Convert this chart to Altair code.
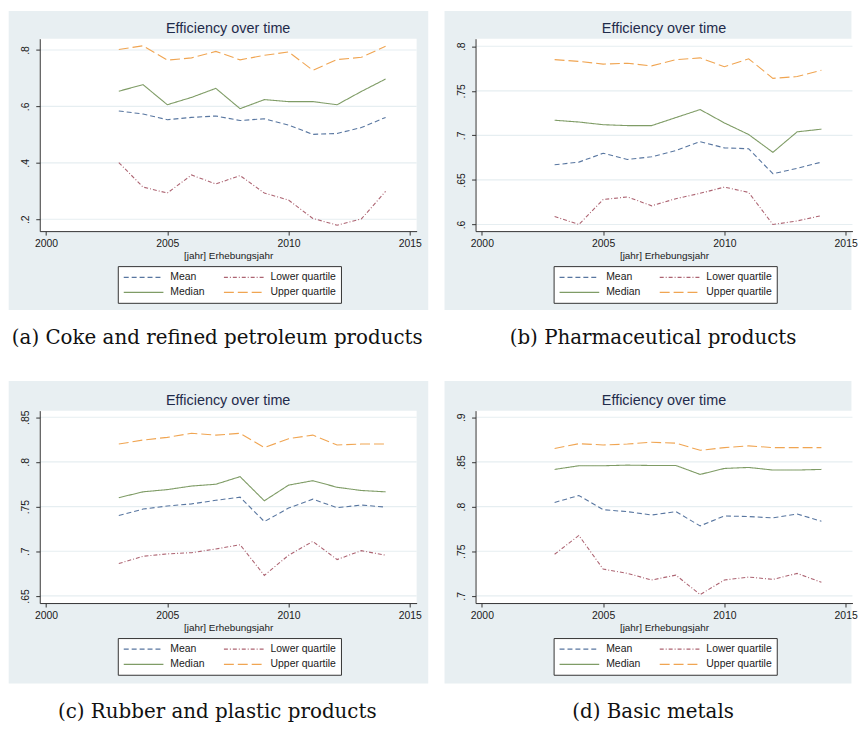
import altair as alt
import pandas as pd

years = list(range(2003, 2015))
series_names = ["Mean", "Median", "Lower quartile", "Upper quartile"]
series_colors = ["#5876a0", "#7f9c66", "#ad6472", "#f0a552"]
series_dashes = [[5, 3], [1, 0], [4, 2, 1, 2], [10, 4]]

x_ticks = [2000, 2005, 2010, 2015]

# (a) Coke and refined petroleum products
a_mean = [.584, .573, .553, .561, .566, .550, .556, .534, .501, .504, .525, .561]
a_median = [.654, .677, .606, .632, .664, .592, .624, .617, .617, .606, .653, .697]
a_lower = [.401, .314, .293, .357, .325, .355, .293, .268, .203, .179, .201, .299]
a_upper = [.802, .815, .764, .772, .795, .765, .781, .793, .728, .766, .774, .813]
a_ticks = [0.2, 0.4, 0.6, 0.8]

# (b) Pharmaceutical products
b_mean = [.667, .670, .680, .673, .676, .683, .693, .686, .685, .657, .663, .670]
b_median = [.717, .715, .712, .711, .711, .720, .729, .714, .701, .681, .704, .707]
b_lower = [.609, .600, .628, .631, .621, .629, .635, .642, .636, .600, .604, .610]
b_upper = [.785, .783, .780, .781, .778, .785, .787, .777, .786, .764, .766, .773]
b_ticks = [0.6, 0.65, 0.7, 0.75, 0.8]

# (c) Rubber and plastic products
c_mean = [.740, .7472, .7506, .753, .757, .7605, .7332, .7483, .7583, .7487, .7517, .7494]
c_median = [.760, .7665, .769, .773, .775, .7835, .7565, .774, .779, .7716, .768, .7665]
c_lower = [.6862, .6944, .697, .6984, .7025, .7073, .673, .6955, .711, .6907, .7007, .6955]
c_upper = [.820, .8245, .8275, .832, .830, .832, .816, .826, .830, .819, .820, .820]
c_ticks = [0.65, 0.7, 0.75, 0.8, 0.85]

# (d) Basic metals
d_mean = [.8046, .8124, .7965, .7943, .7906, .7943, .7784, .7895, .7888, .7873, .7917, .7836]
d_median = [.8416, .8457, .8457, .8464, .846, .846, .836, .8427, .8438, .8409, .8409, .8416]
d_lower = [.7466, .7677, .730, .7252, .7178, .7233, .7015, .7178, .7211, .7185, .7252, .7152]
d_upper = [.865, .8704, .869, .870, .872, .871, .863, .866, .868, .866, .866, .866]
d_ticks = [0.7, 0.75, 0.8, 0.85, 0.9]

captions = [
    "(a) Coke and refined petroleum products",
    "(b) Pharmaceutical products",
    "(c) Rubber and plastic products",
    "(d) Basic metals",
]
chart_title = "Efficiency over time"
x_title = "[jahr] Erhebungsjahr"

FONT = "Liberation Sans"
SERIF = "DejaVu Serif"
BG = "#e8eff2"
GRID = "#e6eef1"
INK = "#1a1a1a"
W, H = 380, 194
X_DOMAIN = [1999.74, 2015.28]


def panel(mean, median, lower, upper, ydomain, yticks, caption, bg_top, bg_right, bg_bottom, cap_y):
    vals = {"Mean": mean, "Median": median, "Lower quartile": lower, "Upper quartile": upper}
    rows = []
    for s in series_names:
        for yr, v in zip(years, vals[s]):
            rows.append({"year": yr, "value": v, "series": s})
    df = pd.DataFrame(rows)
    one = pd.DataFrame({"k": [0]})

    bg = alt.Chart(one).mark_rect(color=BG).encode(
        x=alt.value(-31.3), x2=alt.value(bg_right), y=alt.value(bg_top), y2=alt.value(bg_bottom)
    )
    white = alt.Chart(one).mark_rect(color="white").encode(
        x=alt.value(0), x2=alt.value(W), y=alt.value(0), y2=alt.value(H)
    )
    yscale = alt.Scale(domain=ydomain, nice=False, zero=False)
    yaxis = alt.Axis(
        values=yticks, title=None, grid=False, zindex=1,
        labelExpr="replace(format(datum.value, '.2~f'), '0.', '.')",
        labelAngle=270, labelAlign="center", labelBaseline="alphabetic",
        labelFont=FONT, labelFontSize=10.5, labelColor=INK, labelPadding=7,
        tickSize=4, tickColor="#333333", domainColor="#333333",
    )
    grid = alt.Chart(pd.DataFrame({"value": yticks})).mark_rule(color=GRID, strokeWidth=1.2).encode(
        y=alt.Y("value:Q", scale=yscale, axis=yaxis), x=alt.value(0), x2=alt.value(W)
    )
    legend = alt.Legend(
        title=None, orient="none", legendX=78.7, legendY=229.3, columns=2,
        symbolType="M-1,0H7", symbolSize=100, symbolStrokeWidth=1.3,
        labelFont=FONT, labelFontSize=10.5, labelColor=INK, labelOffset=36,
        strokeColor="#333333", fillColor="white", padding=5,
        rowPadding=3.5, columnPadding=16, gridAlign="each", zindex=1,
    )
    lines = alt.Chart(df).mark_line(strokeWidth=1.1).encode(
        x=alt.X(
            "year:Q",
            scale=alt.Scale(domain=X_DOMAIN, nice=False, zero=False),
            axis=alt.Axis(
                values=x_ticks, format="d", title=x_title, grid=False, zindex=1,
                labelFont=FONT, labelFontSize=10.5, labelColor=INK, labelPadding=4,
                tickSize=4, tickColor="#333333", domainColor="#333333",
                titleFont=FONT, titleFontSize=10, titleFontWeight="normal",
                titleColor=INK, titlePadding=1,
            ),
        ),
        y=alt.Y("value:Q", scale=yscale, axis=yaxis),
        color=alt.Color("series:N", scale=alt.Scale(domain=series_names, range=series_colors), legend=legend),
        strokeDash=alt.StrokeDash("series:N", scale=alt.Scale(domain=series_names, range=series_dashes), legend=legend),
    )
    title = alt.Chart(one).mark_text(
        text=chart_title, font=FONT, fontSize=14.5, color="#1f2b4b", align="center", baseline="alphabetic"
    ).encode(x=alt.value(W / 2), y=alt.value(-6))
    cap = alt.Chart(one).mark_text(
        text=caption, font=SERIF, fontSize=20, color="#111111", align="center", baseline="middle"
    ).encode(x=alt.value(179), y=alt.value(cap_y))
    return alt.layer(bg, white, grid, lines, title, cap).properties(width=W, height=H)


pa = panel(a_mean, a_median, a_lower, a_upper, [0.158, 0.84], a_ticks, captions[0], -28, 391.7, 273.5, 302.3)
pb = panel(b_mean, b_median, b_lower, b_upper, [0.5926, 0.8085], b_ticks, captions[1], -28, 379, 273.5, 302.3)
pc = panel(c_mean, c_median, c_lower, c_upper, [0.642, 0.8574], c_ticks, captions[2], -30, 391.7, 275, 304)
pd_ = panel(d_mean, d_median, d_lower, d_upper, [0.692, 0.9074], d_ticks, captions[3], -30, 379, 275, 304)

chart = alt.concat(
    pa, pb, pc, pd_, columns=2, spacing={"row": 181, "column": 59.4}, bounds="flush"
).resolve_scale(y="independent", color="independent", strokeDash="independent").resolve_legend(
    color="independent", strokeDash="independent"
).properties(padding=0, background="white").configure_view(strokeWidth=0)

chart.save("out.html", embed_options={"renderer": "svg", "actions": False})
